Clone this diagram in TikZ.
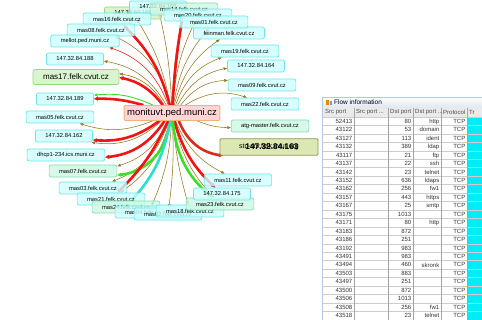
\documentclass[tikz,border=0pt]{standalone}
\usepackage{fontspec}
\setmainfont{Liberation Sans}
\usetikzlibrary{arrows.meta,backgrounds}
\definecolor{hostfill}{RGB}{205,255,255}
\definecolor{hostline}{RGB}{110,228,232}
\definecolor{greenfill}{RGB}{208,242,196}
\definecolor{greenline}{RGB}{150,215,130}
\definecolor{monfill}{RGB}{255,206,206}
\definecolor{monline}{RGB}{240,178,120}
\definecolor{hotfill}{RGB}{216,230,172}
\definecolor{hotline}{RGB}{150,150,80}
\definecolor{flowolive}{RGB}{150,118,30}
\definecolor{flowred}{RGB}{242,20,20}
\definecolor{flowgreen}{RGB}{60,222,40}
\definecolor{flowcyan}{RGB}{40,225,200}
\definecolor{gridgray}{RGB}{205,205,205}
\definecolor{headgray}{RGB}{234,234,234}
\definecolor{framebl}{RGB}{178,200,226}
\definecolor{trcyan}{RGB}{0,236,246}
\pgfdeclarelayer{paper}
\pgfdeclarelayer{edges}
\pgfsetlayers{paper,edges,main}
\begin{document}
\begin{tikzpicture}[x=1pt,y=1pt,
  host/.style={draw=hostline, fill=hostfill, fill opacity=0.8, text opacity=1,
    rounded corners=2pt, line width=0.7pt, inner xsep=10pt, inner ysep=0pt,
    minimum height=12pt, font=\fontsize{5.8}{6}\selectfont},
  greenhost/.style={host, draw=greenline, fill=greenfill},
  mixhost/.style={host, draw=greenline!50!hostline, fill=greenfill!50!hostfill},
  monbox/.style={draw=monline, fill=monfill, fill opacity=0.85, text opacity=1,
    rounded corners=1pt, line width=0.8pt, inner xsep=3pt, inner ysep=0pt,
    minimum height=15pt, font=\fontsize{9.5}{10}\selectfont},
  hotbox/.style={draw=hotline, fill=hotfill, fill opacity=0.9, text opacity=1,
    rounded corners=1pt, line width=0.8pt, minimum width=98pt, minimum height=16.5pt,
    inner sep=0pt, font=\fontsize{7}{7}\selectfont},
  flow/.style={draw=flowolive, line width=0.55pt, -{Triangle[length=3.5pt,width=2.8pt]}},
  heavy/.style={line width=2.6pt, -{Triangle[length=4pt,width=4pt]}},
  cell/.style={font=\fontsize{6}{6}\selectfont, inner sep=0pt, anchor=east, text=black!80},
  headcell/.style={font=\fontsize{6}{6}\selectfont, inner sep=0pt, anchor=west, text=black!70}]
\def\rowh{8.45}
\def\headbot{117}

\begin{pgfonlayer}{paper}
\fill[white] (0,0) rectangle (482,-320);
\end{pgfonlayer}
\useasboundingbox (0,0) rectangle (482,-320);

% monitored host and its peers
\node[monbox] (mon) at (172,-113) {monituvt.ped.muni.cz};
\node[greenhost] (h166) at (133,-13) {147.32.84.166};
\node[host] (h165) at (158,-7) {147.32.84.165};
\node[mixhost] (mas14) at (184,-9) {mas14.felk.cvut.cz};
\node[host] (mas20) at (198,-15) {mas20.felk.cvut.cz};
\node[host] (mas16) at (117,-19) {mas16.felk.cvut.cz};
\node[host] (mas08) at (101,-30) {mas08.felk.cvut.cz};
\node[host] (mellot) at (85,-41) {mellot.ped.muni.cz};
\node[host] (h188) at (75,-59) {147.32.84.188};
\node[greenhost, minimum height=15pt, font=\fontsize{8}{8}\selectfont] (mas17) at (76,-77) {mas17.felk.cvut.cz};
\node[host] (h189) at (65,-99) {147.32.84.189};
\node[host] (mas05) at (60,-117) {mas05.felk.cvut.cz};
\node[host] (h162) at (64,-136) {147.32.84.162};
\node[host] (dhcp) at (66,-155) {dhcp1-234.ics.muni.cz};
\node[mixhost] (mas07) at (83,-171) {mas07.felk.cvut.cz};
\node[host] (mas03) at (93,-188) {mas03.felk.cvut.cz};
\node[host] (mas21) at (111,-199) {mas21.felk.cvut.cz};
\node[mixhost] (mas24) at (126,-207) {mas24.felk.cvut.cz};
\node[host] (mas04) at (149,-212) {mas04.felk.cvut.cz};
\node[host] (mas02) at (168,-214) {mas02.felk.cvut.cz};
\node[host] (mas18) at (190,-211) {mas18.felk.cvut.cz};
\node[mixhost] (mas23) at (220,-204) {mas23.felk.cvut.cz};
\node[host] (h175) at (222,-194) {147.32.84.175};
\node[host] (mas11) at (238,-180) {mas11.felk.cvut.cz};
\node[hotbox] (stc) at (269,-147) {stc-srv.felk.cvut.org};
\node[font=\bfseries\fontsize{8.3}{9}\selectfont, inner sep=0pt] (h163) at (272,-147) {147.32.84.163};
\node[mixhost] (atg) at (270,-126) {atg-master.felk.cvut.cz};
\node[host] (mas22) at (265,-104) {mas22.felk.cvut.cz};
\node[host] (mas09) at (262,-85) {mas09.felk.cvut.cz};
\node[host] (h164) at (256,-66) {147.32.84.164};
\node[host] (mas19) at (245,-51) {mas19.felk.cvut.cz};
\node[host] (feinman) at (229,-33) {feinman.felk.cvut.cz};
\node[host] (mas01) at (214,-22) {mas01.felk.cvut.cz};

\begin{pgfonlayer}{edges}
\foreach \n/\b in {mas16/-15, h166/-10, h165/-5, mas14/5, mas20/10, mas01/15,
    feinman/20, mas19/25, h164/25, mas09/25, mas22/25, atg/-10, mas11/-20,
    h175/-15, mas23/-15, mas18/-5, mas02/5, mas04/10, mas24/15, mas21/20,
    mas03/25, mas07/25, dhcp/25, h162/25, mas05/20, mas17/-25, h188/-25, mas08/-25}
  \draw[flow] (mon) to[bend left=\b] (\n);
\draw[flow, draw=flowred] (mon) to[bend left=-25] (mellot);
\draw[flow, draw=flowgreen, line width=0.9pt] (mon) to[bend left=-15] (h189);
% heavy flows
\draw[heavy, flowred] (mon) to[bend left=-15] (mas16);
\draw[heavy, flowred] (mon) to[bend left=3] (mas14);
\draw[heavy, flowred] (mon) to[bend left=-20] (mas17);
\draw[heavy, flowred] (mon) to[bend left=-8] (h189);
\draw[heavy, flowred] (mon) to[bend left=20] (h162);
\draw[heavy, flowred] (mon) to[bend left=25] (dhcp);
\draw[heavy, flowgreen] (mon) to[bend left=40] (mas07);
\draw[heavy, flowred] (mon) to[bend left=10] (mas21);
\draw[heavy, flowcyan] (mon) to[bend left=15] (mas24);
\draw[heavy, flowred] (mon) to[bend left=-15] (h175);
\draw[heavy, flowgreen] (mon) to[bend left=-22] (mas23);
\draw[heavy, flowred!75!flowolive] (mon) to[bend left=-30] (stc);
\end{pgfonlayer}

% flow information window
\fill[white] (322,-97) rectangle (482,-320);
\shade[top color=white, bottom color=framebl!45] (322,-97) rectangle (482,-108);
\fill[orange!85!brown] (326,-100) rectangle (329,-105.5);
\fill[blue!45] (329.5,-101.5) rectangle (332,-105.5);
\node[headcell, font=\fontsize{6.5}{7}\selectfont, text=black] (ftitle) at (334,-102.5) {Flow information};
\fill[headgray] (323,-108) rectangle (482,-\headbot);
\fill[trcyan] (467.5,-\headbot) rectangle (482,-320);
\foreach \r in {0,...,24}{
  \pgfmathsetmacro\ly{\headbot+\r*\rowh}
  \draw[gridgray, line width=0.4pt] (323,-\ly) -- (482,-\ly);
}
\foreach \x in {354,388,413,441,467}
  \draw[gridgray!80!black, line width=0.4pt] (\x,-108) -- (\x,-320);
\draw[framebl, line width=1.2pt] (322.6,-320) -- (322.6,-97.6) -- (482,-97.6);
\foreach \x/\t/\n in {325/{Src port}/hsp, 356/{Src port ...}/hsx, 390/{Dst port}/hdp,
    415/{Dst port ...}/hdx, 443/{Protocol}/hpr, 469/{Tr}/htr}
  \node[headcell] (\n) at (\x,-112.5) {\t};
\foreach \sp/\dp/\sv [count=\r] in {52413/80/http, 43122/53/domain, 43127/113/ident,
    43132/389/ldap, 43117/21/ftp, 43137/22/ssh, 43142/23/telnet, 43152/636/ldaps,
    43162/256/fw1, 43157/443/https, 43167/25/smtp, 43175/1013/{}, 43171/80/http,
    43183/872/{}, 43186/251/{}, 43192/983/{}, 43491/983/{}, 43494/460/skronk,
    43503/883/{}, 43497/251/{}, 43500/872/{}, 43506/1013/{}, 43508/256/fw1,
    43518/23/telnet}{
  \pgfmathsetmacro\ry{\headbot+(\r-0.5)*\rowh}
  \node[cell] (sp\r) at (352.5,-\ry) {\sp};
  \node[cell] (dp\r) at (411.5,-\ry) {\dp};
  \node[cell] (sv\r) at (439.5,-\ry) {\sv};
  \node[cell] (pr\r) at (465.5,-\ry) {TCP};
}

\end{tikzpicture}
\end{document}
